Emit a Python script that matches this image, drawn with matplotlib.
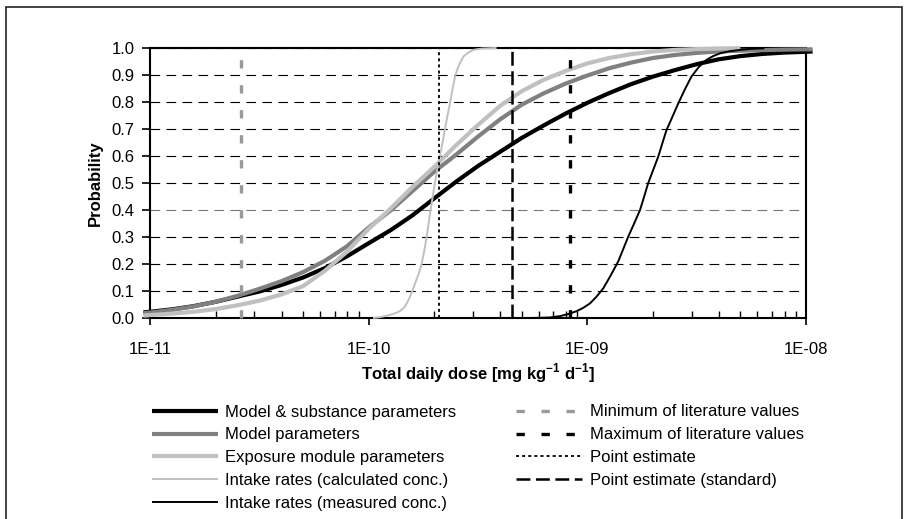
import numpy as np
import matplotlib
matplotlib.use('Agg')
import matplotlib.pyplot as plt
from matplotlib.patches import Rectangle
from matplotlib.ticker import FixedLocator, LogLocator, NullFormatter

plt.rcParams['font.family'] = ['Liberation Sans', 'DejaVu Sans']
plt.rcParams['font.size'] = 12
plt.rcParams['lines.scale_dashes'] = False
plt.rcParams['mathtext.fontset'] = 'custom'
plt.rcParams['mathtext.rm'] = 'Liberation Sans'
plt.rcParams['mathtext.bf'] = 'Liberation Sans:bold'

# Cumulative probability curves (x given as log10 of dose in mg/kg/d)
# -------------------------------------------------------------------
log_dose_wide = [-11.03, -11.0, -10.9, -10.8, -10.7, -10.6, -10.5, -10.4, -10.3,
                 -10.2, -10.1, -10.0, -9.9, -9.8, -9.7, -9.6, -9.5, -9.4, -9.3,
                 -9.2, -9.1, -9.0, -8.9, -8.8, -8.7, -8.6, -8.5, -8.4, -8.3,
                 -8.2, -8.1, -8.0, -7.97]
p_model_substance = [0.021, 0.023, 0.032, 0.044, 0.060, 0.079, 0.098, 0.122, 0.150,
                     0.185, 0.228, 0.277, 0.325, 0.380, 0.443, 0.505, 0.563, 0.615,
                     0.667, 0.713, 0.757, 0.797, 0.833, 0.866, 0.894, 0.918, 0.940,
                     0.958, 0.970, 0.978, 0.983, 0.986, 0.987]
p_model = [0.018, 0.020, 0.030, 0.043, 0.060, 0.082, 0.108, 0.136, 0.170,
           0.212, 0.265, 0.335, 0.398, 0.470, 0.542, 0.605, 0.672, 0.735,
           0.790, 0.832, 0.868, 0.898, 0.925, 0.946, 0.963, 0.974, 0.982,
           0.987, 0.990, 0.992, 0.994, 0.995, 0.995]

log_dose_exposure = [-11.03, -11.0, -10.9, -10.8, -10.7, -10.6, -10.5, -10.4, -10.3,
                     -10.2, -10.1, -10.0, -9.9, -9.8, -9.7, -9.6, -9.5, -9.4, -9.3,
                     -9.2, -9.1, -9.0, -8.9, -8.8, -8.7, -8.6, -8.5, -8.4, -8.3]
p_exposure = [0.009, 0.011, 0.016, 0.023, 0.033, 0.047, 0.064, 0.087, 0.118,
              0.175, 0.245, 0.330, 0.405, 0.485, 0.560, 0.640, 0.715, 0.785,
              0.840, 0.882, 0.915, 0.943, 0.963, 0.977, 0.987, 0.993, 0.996,
              0.998, 0.999]

log_dose_calc = [-9.98, -9.95, -9.93, -9.91, -9.887, -9.865, -9.85, -9.836, -9.826,
                 -9.813, -9.80, -9.788, -9.772, -9.758, -9.746, -9.735, -9.726,
                 -9.717, -9.707, -9.697, -9.686, -9.674, -9.662, -9.651, -9.64,
                 -9.628, -9.617, -9.605, -9.595, -9.585, -9.575, -9.567, -9.553,
                 -9.54, -9.522, -9.50, -9.48, -9.45, -9.415]
p_intake_calc = [0.0, 0.003, 0.006, 0.010, 0.015, 0.022, 0.030, 0.040, 0.054,
                 0.075, 0.100, 0.128, 0.162, 0.200, 0.248, 0.300, 0.350,
                 0.400, 0.450, 0.500, 0.550, 0.600, 0.650, 0.700, 0.748,
                 0.795, 0.845, 0.894, 0.920, 0.940, 0.956, 0.968, 0.978,
                 0.985, 0.993, 0.996, 0.998, 0.999, 1.0]

log_dose_meas = [-9.263, -9.21, -9.17, -9.125, -9.09, -9.05, -9.02, -8.988, -8.958,
                 -8.927, -8.895, -8.859, -8.836, -8.813, -8.786, -8.759, -8.74,
                 -8.722, -8.699, -8.676, -8.657, -8.638, -8.611, -8.584, -8.555,
                 -8.524, -8.49, -8.455, -8.425, -8.394, -8.35, -8.30, -8.25, -8.19]
p_intake_meas = [0.0, 0.001, 0.002, 0.007, 0.014, 0.025, 0.037, 0.054, 0.079,
                 0.110, 0.155, 0.209, 0.255, 0.301, 0.350, 0.400, 0.450,
                 0.499, 0.548, 0.597, 0.647, 0.696, 0.745, 0.795, 0.845,
                 0.894, 0.930, 0.956, 0.970, 0.980, 0.988, 0.993, 0.997, 0.999]

# Reference doses drawn as vertical lines
lit_min = 2.6e-11
lit_max = 8.3e-10
point_est = 2.09e-10
point_est_std = 4.54e-10

x_ticks = [1e-11, 1e-10, 1e-9, 1e-8]
x_ticklabels = ['1E-11', '1E-10', '1E-09', '1E-08']
y_ticks = [0.0, 0.1, 0.2, 0.3, 0.4, 0.5, 0.6, 0.7, 0.8, 0.9, 1.0]

# Figure and axes
# ---------------
fig = plt.figure(figsize=(9.11, 5.19), dpi=100)
W, H = 911.0, 519.0
ax = fig.add_axes([150 / W, 1 - 318 / H, 656 / W, 270 / H])

fig.add_artist(Rectangle((6 / W, -0.05), 896 / W, 1.05 - 7 / H, transform=fig.transFigure,
                         fill=False, lw=1.2, ec='#222222'))

curves = [
    (log_dose_wide, p_model_substance, 'Model & substance parameters', 'black', 3.0),
    (log_dose_wide, p_model, 'Model parameters', '#808080', 3.0),
    (log_dose_exposure, p_exposure, 'Exposure module parameters', '#c0c0c0', 3.0),
    (log_dose_calc, p_intake_calc, 'Intake rates (calculated conc.)', '#c0c0c0', 1.4),
    (log_dose_meas, p_intake_meas, 'Intake rates (measured conc.)', 'black', 1.4),
]
handles = []
for lx, p, label, col, lw in curves:
    line, = ax.plot(10.0 ** np.array(lx), p, color=col, lw=lw, label=label,
                    clip_on=False, zorder=3, solid_capstyle='butt')
    handles.append(line)

vlines = [
    (lit_min, 'Minimum of literature values', '#999999', 2.4, (0, (6, 12))),
    (lit_max, 'Maximum of literature values', 'black', 2.4, (0, (6, 12))),
    (point_est, 'Point estimate', 'black', 1.3, (0, (2.2, 2.2))),
    (point_est_std, 'Point estimate (standard)', 'black', 1.8, (0, (10, 4))),
]
for xv, label, col, lw, ls in vlines:
    line, = ax.plot([xv, xv], [0, 1], color=col, lw=lw, ls=ls, label=label,
                    clip_on=False, zorder=4)
    handles.append(line)

ax.set_xscale('log')
ax.set_xlim(1e-11, 1e-8)
ax.set_ylim(0, 1)

ax.xaxis.set_major_locator(FixedLocator(x_ticks))
ax.set_xticklabels(x_ticklabels)
ax.xaxis.set_minor_locator(LogLocator(base=10, subs=np.arange(2, 10)))
ax.xaxis.set_minor_formatter(NullFormatter())
ax.set_yticks(y_ticks)
ax.set_yticklabels(['%.1f' % v for v in y_ticks])

ax.tick_params(axis='x', which='major', direction='out', length=5, width=1.2, pad=12)
ax.tick_params(axis='x', which='minor', direction='in', length=5, width=1.0)
ax.tick_params(axis='y', which='major', direction='out', length=6, width=1.2, pad=5)

for s in ax.spines.values():
    s.set_linewidth(1.5)
    s.set_zorder(2)

ax.grid(axis='y', which='major', color='black', lw=0.8, ls=(0, (7, 4.5)))
ax.yaxis.get_gridlines()[4].set_color('#777777')
ax.set_axisbelow(True)

ax.set_xlabel('Total daily dose [mg kg$^{\\mathbf{-1}}$ d$^{\\mathbf{-1}}$]', fontweight='bold')
ax.xaxis.set_label_coords(0.5, (318 - 373) / 270.0)
ax.xaxis.label.set_va('center')
ax.set_ylabel('Probability', fontweight='bold')
ax.yaxis.set_label_coords((95 - 150) / 656.0, 0.5)
ax.yaxis.label.set_va('center')

ax.legend(handles=handles, ncol=2, frameon=False, loc='upper left',
          bbox_to_anchor=(152 / W, 1 - 404.5 / H), bbox_transform=fig.transFigure,
          borderaxespad=0, borderpad=0, handlelength=3.95, handletextpad=0.45,
          columnspacing=3.6, labelspacing=0.47, fontsize=12)

fig.savefig('out.png', dpi=100)
